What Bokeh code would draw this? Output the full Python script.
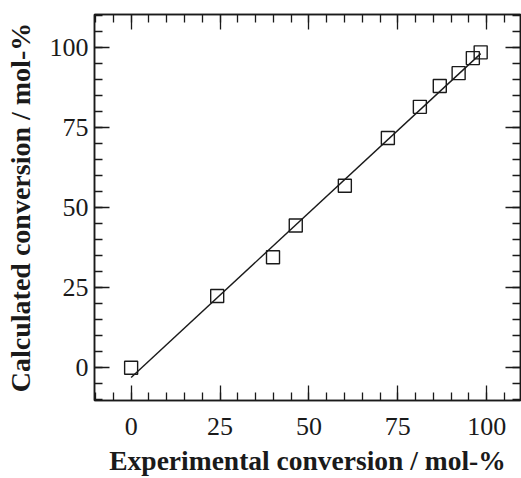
from bokeh.plotting import figure
from bokeh.models import LinearAxis, SingleIntervalTicker, Range1d, CustomJSTickFormatter
from bokeh.embed import file_html
from bokeh.resources import INLINE

exp_conv = [0.0, 24.2, 39.9, 46.3, 60.1, 72.2, 81.2, 86.8, 92.1, 96.1, 98.3]
calc_conv = [0.0, 22.4, 34.5, 44.4, 56.8, 71.7, 81.4, 87.9, 91.9, 96.6, 98.4]
fit_x = [0.0, 98.3]
fit_y = [-3.0, 98.0]

FONT = "Liberation Serif"
INK = "#1a1a1a"

p = figure(width=521, height=478, output_backend="svg", toolbar_location=None,
           x_range=Range1d(-10.3, 109.5), y_range=Range1d(-10.2, 110.2),
           min_border_left=94, min_border_right=1, min_border_top=14, min_border_bottom=76)
p.grid.visible = False
p.outline_line_color = INK
p.outline_line_width = 1.5
p.background_fill_color = "white"
p.border_fill_color = "white"

def style(ax, labels=True):
    ax.ticker = SingleIntervalTicker(interval=25, num_minor_ticks=5)
    ax.axis_line_color = INK
    ax.axis_line_width = 1.5
    ax.major_tick_line_color = INK
    ax.minor_tick_line_color = INK
    ax.major_tick_line_width = 1.3
    ax.minor_tick_line_width = 1.3
    ax.major_tick_in = 15
    ax.major_tick_out = 0
    ax.minor_tick_in = 8
    ax.minor_tick_out = 0
    if labels:
        ax.major_label_text_font = FONT
        ax.major_label_text_font_size = "26px"
        ax.major_label_text_color = INK
        ax.axis_label_text_font = FONT
        ax.axis_label_text_font_style = "bold"
        ax.axis_label_text_color = INK
    else:
        ax.formatter = CustomJSTickFormatter(code="return ''")
        ax.major_label_standoff = 0

style(p.xaxis[0])
style(p.yaxis[0])
p.xaxis[0].axis_label = "Experimental conversion / mol-%"
p.yaxis[0].axis_label = "Calculated conversion / mol-%"
p.xaxis[0].axis_label_text_font_size = "27.5px"
p.yaxis[0].axis_label_text_font_size = "28px"
p.xaxis[0].major_label_standoff = 17
p.yaxis[0].major_label_standoff = 6
p.xaxis[0].axis_label_standoff = 7
p.yaxis[0].axis_label_standoff = 11

top = LinearAxis()
style(top, labels=False)
p.add_layout(top, "above")
right = LinearAxis()
style(right, labels=False)
p.add_layout(right, "right")

p.line(fit_x, fit_y, line_color=INK, line_width=1.4)
p.scatter(exp_conv, calc_conv, marker="square", size=13, fill_color=None,
          line_color=INK, line_width=1.4)

open("out.html", "w").write(file_html(p, INLINE))
